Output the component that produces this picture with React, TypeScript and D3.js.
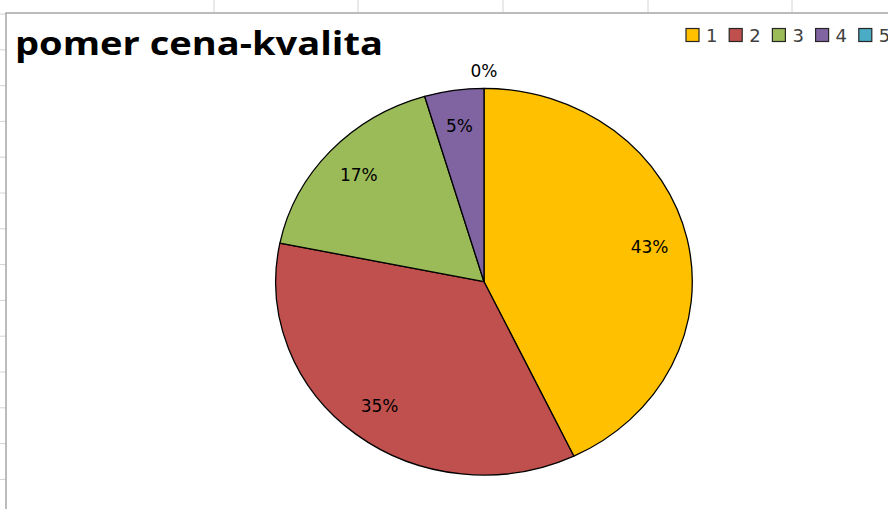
import React from "react";
import * as d3 from "d3";

const categories = ["1", "2", "3", "4", "5"];
const values = [42.9, 35.3, 17.2, 4.6, 0];
const colors = ["#FFC000", "#C0504D", "#9BBB59", "#8064A2", "#4BACC6"];
const title = "pomer cena-kvalita";

const W = 888;
const H = 509;
const cx = 484;
const cy = 281.7;
const rx = 208.3;
const ry = 193.4;

export default function App() {
  const total = d3.sum(values);
  const pie = d3.pie<number>().value((d) => d).sort(null)(values);
  const arc = d3.arc<d3.PieArcDatum<number>>().innerRadius(0).outerRadius(ry);
  const sx = rx / ry;

  const hGrid = d3.range(14).map((i) => 14 + i * 35.8);
  const vGrid = [214, 358, 503, 648, 792];

  const labelPos = (d: d3.PieArcDatum<number>) => {
    const mid = (d.startAngle + d.endAngle) / 2;
    const f = d.value === 0 ? 1.09 : 0.815;
    return [cx + Math.sin(mid) * rx * f, cy - Math.cos(mid) * ry * f];
  };

  return (
    <svg
      width={W}
      height={H}
      style={{ position: "absolute", left: 0, top: 0, display: "block" }}
    >
      <rect x={0} y={0} width={W} height={H} fill="#ffffff" />
      {hGrid.map((y, i) => (
        <line key={"h" + i} x1={0} x2={6} y1={y} y2={y} stroke="#d4d4d4" strokeWidth={1} />
      ))}
      {vGrid.map((x, i) => (
        <line key={"v" + i} x1={x} x2={x} y1={0} y2={12} stroke="#d4d4d4" strokeWidth={1} />
      ))}
      <rect x={6} y={13} width={W + 10} height={H + 10} fill="#ffffff" stroke="#a6a6a6" strokeWidth={1.5} />

      <text
        x={15}
        y={55}
        fontFamily="'Open Sans', sans-serif"
        fontWeight="bold"
        fontSize={33}
        fill="#000000"
        textLength={368}
        lengthAdjust="spacingAndGlyphs"
      >
        {title}
      </text>

      <g transform={`translate(${cx},${cy}) scale(${sx},1)`}>
        {pie.map((d, i) =>
          d.value > 0 ? (
            <path
              key={i}
              d={arc(d) || ""}
              fill={colors[i]}
              stroke="#000000"
              strokeWidth={1.3}
              vectorEffect="non-scaling-stroke"
              strokeLinejoin="round"
            />
          ) : null
        )}
      </g>

      {pie.map((d, i) => {
        const [lx, ly] = labelPos(d);
        return (
          <text
            key={"l" + i}
            x={lx}
            y={ly}
            textAnchor="middle"
            dominantBaseline="central"
            fontFamily="'DejaVu Sans', sans-serif"
            fontSize={17}
            fill="#000000"
          >
            {Math.round((d.value / total) * 100) + "%"}
          </text>
        );
      })}

      {categories.map((c, i) => {
        const x0 = 686 + i * 43.2;
        return (
          <g key={"lg" + i}>
            <rect x={x0} y={28.5} width={13} height={13} fill={colors[i]} stroke="#262626" strokeWidth={1.2} />
            <text
              x={x0 + 20}
              y={35.5}
              dominantBaseline="central"
              fontFamily="'DejaVu Sans', sans-serif"
              fontSize={18}
              fill="#404040"
            >
              {c}
            </text>
          </g>
        );
      })}
    </svg>
  );
}
